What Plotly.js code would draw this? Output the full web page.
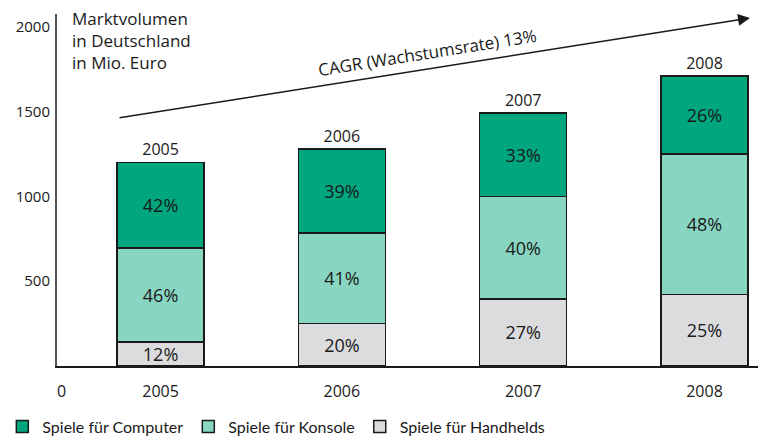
<!DOCTYPE html>
<html>
<head>
<meta charset="utf-8">
<script src="https://cdn.plot.ly/plotly-3.0.1.min.js"></script>
<style>
	html, body { margin: 0; padding: 0; background: #fff; }
	#chart { width: 758px; height: 444px; }
</style>
</head>
<body>
<div id="chart"></div>
<script>
// Marktvolumen in Mio. Euro
var years = ['2005', '2006', '2007', '2008'];
var computer = [505, 495, 490, 460];
var konsole = [555, 535, 605, 830];
var handheld = [140, 250, 395, 420];
var computerPct = ['42%', '39%', '33%', '26%'];
var konsolePct = ['46%', '41%', '40%', '48%'];
var handheldPct = ['12%', '20%', '27%', '25%'];
var yTicks = [500, 1000, 1500, 2000];

var totals = years.map(function(y, i) {
	return computer[i] + konsole[i] + handheld[i];
});

var font = 'Open Sans, sans-serif';
var barLine = {color: '#1a1a1a', width: 1.5};

function barTrace(name, values, labels, color) {
	return {
		type: 'bar',
		name: name,
		x: years,
		y: values,
		text: labels,
		textposition: 'inside',
		insidetextanchor: 'middle',
		constraintext: 'none',
		cliponaxis: false,
		textangle: 0,
		textfont: {family: font, size: 18, color: '#1a1a1a'},
		width: 0.48,
		marker: {color: color, line: barLine},
		hoverinfo: 'skip',
	};
}

var data = [
	barTrace('Spiele für Handhelds', handheld, handheldPct, '#dcdcdf'),
	barTrace('Spiele für Konsole', konsole, konsolePct, '#88d5c2'),
	barTrace('Spiele für Computer', computer, computerPct, '#00a67e'),
	{
		// Jahreszahlen über den Säulen
		type: 'scatter',
		mode: 'markers+text',
		x: years,
		y: totals,
		text: years,
		textposition: 'top center',
		textfont: {family: font, size: 16, color: '#1a1a1a'},
		marker: {size: 3, opacity: 0},
		showlegend: false,
		hoverinfo: 'skip',
		cliponaxis: false,
	},
];

var layout = {
	width: 758,
	height: 444,
	barmode: 'stack',
	margin: {l: 57, r: 0, t: 14, b: 75},
	plot_bgcolor: '#fff',
	paper_bgcolor: '#fff',
	font: {family: font, size: 16, color: '#1a1a1a'},
	xaxis: {
		type: 'category',
		range: [-0.571, 3.295],
		showgrid: false,
		zeroline: false,
		showline: true,
		linecolor: '#1a1a1a',
		linewidth: 1.5,
		ticks: '',
		ticklabelstandoff: 10,
		tickfont: {family: font, size: 16},
		fixedrange: true,
	},
	yaxis: {
		range: [0, 2074],
		tickvals: yTicks,
		ticktext: yTicks.map(String),
		showgrid: false,
		zeroline: false,
		showline: true,
		linecolor: '#555',
		linewidth: 2,
		ticks: '',
		ticklabelstandoff: 2,
		tickfont: {family: font, size: 15},
		fixedrange: true,
	},
	legend: {
		orientation: 'h',
		traceorder: 'reversed',
		x: -0.078,
		xanchor: 'left',
		y: -0.172,
		yanchor: 'middle',
		font: {family: 'Lato, sans-serif', size: 16},
	},
	annotations: [
		{
			xref: 'paper', yref: 'paper',
			x: 0.019, y: 1.025,
			xanchor: 'left', yanchor: 'top',
			align: 'left',
			showarrow: false,
			text: 'Marktvolumen<br>in Deutschland<br>in Mio. Euro',
			font: {family: font, size: 17},
		},
		{
			xref: 'paper', yref: 'paper',
			x: 0.007, y: -0.07,
			xanchor: 'center', yanchor: 'middle',
			showarrow: false,
			text: '0',
			font: {family: font, size: 16},
		},
		// CAGR Pfeil
		{
			xref: 'paper', yref: 'paper',
			x: 0.9886, y: 0.9887,
			axref: 'pixel', ayref: 'pixel',
			ax: -632, ay: 100,
			text: '',
			showarrow: true,
			arrowhead: 2,
			arrowsize: 1.6,
			arrowwidth: 1.5,
			arrowcolor: '#1a1a1a',
		},
		{
			xref: 'paper', yref: 'paper',
			x: 0.528, y: 0.89,
			xanchor: 'center', yanchor: 'middle',
			showarrow: false,
			textangle: -9,
			text: 'CAGR (Wachstumsrate) 13%',
			font: {family: font, size: 17},
		},
	],
};

Plotly.newPlot('chart', data, layout, {staticPlot: true});
</script>
</body>
</html>
